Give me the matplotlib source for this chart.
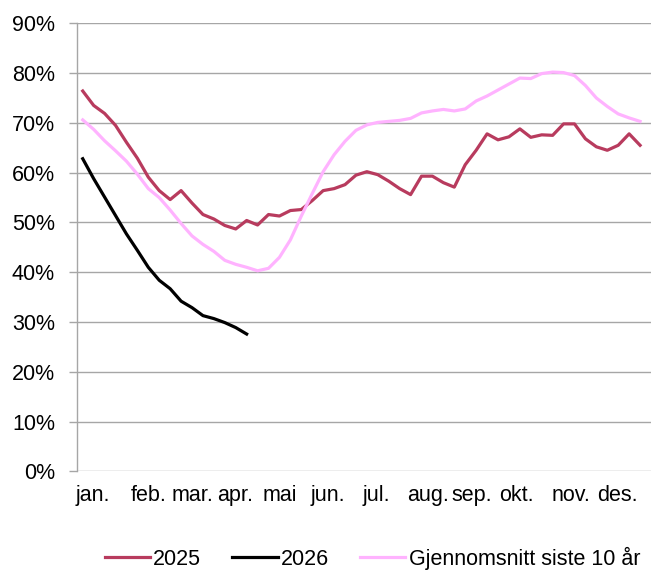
import numpy as np
import matplotlib
matplotlib.use('Agg')
import matplotlib.pyplot as plt
from matplotlib.ticker import FuncFormatter

plt.rcParams['font.family'] = ['Liberation Sans', 'DejaVu Sans']

# weekly values (%), week 1..52
weeks = np.arange(52)

y2025 = [76.4, 73.5, 71.9, 69.5, 66.1, 62.9, 59.1, 56.4, 54.6, 56.4,
         53.9, 51.6, 50.7, 49.4, 48.7, 50.4, 49.5, 51.6, 51.3, 52.4,
         52.6, 54.4, 56.4, 56.8, 57.6, 59.5, 60.2, 59.6, 58.3, 56.8,
         55.6, 59.3, 59.3, 58.0, 57.1, 61.6, 64.5, 67.8, 66.6, 67.2,
         68.8, 67.1, 67.6, 67.5, 69.8, 69.8, 66.8, 65.2, 64.5, 65.5,
         67.8, 65.5]

y2026 = [62.8, 58.8, 55.1, 51.4, 47.7, 44.4, 41.0, 38.4, 36.7, 34.2,
         32.9, 31.3, 30.7, 29.9, 28.9, 27.6]

avg10 = [70.6, 68.7, 66.4, 64.4, 62.3, 59.7, 56.8, 55.0, 52.5, 49.8,
         47.3, 45.6, 44.2, 42.4, 41.6, 41.0, 40.3, 40.8, 43.0, 46.5,
         51.3, 55.8, 60.2, 63.6, 66.3, 68.5, 69.6, 70.1, 70.3, 70.5,
         70.9, 72.0, 72.4, 72.7, 72.4, 72.8, 74.4, 75.4, 76.6, 77.8,
         79.0, 78.9, 79.9, 80.2, 80.1, 79.5, 77.5, 75.0, 73.3, 71.8,
         71.0, 70.3]

month_labels = ['jan.', 'feb.', 'mar.', 'apr.', 'mai', 'jun.', 'jul.',
                'aug.', 'sep.', 'okt.', 'nov.', 'des.']
month_pos = [0.9, 6.0, 10.0, 13.9, 18.0, 22.4, 26.9, 31.6, 35.6, 39.7, 44.7, 48.9]

fig = plt.figure(figsize=(6.51, 5.72), dpi=100)
ax = fig.add_axes([0.1187, 0.1757, 0.8813, 0.7836])

grid_col = '#A6A6A6'
ax.set_ylim(0, 90)
ax.set_xlim(-0.5, 52.0)
ax.set_yticks(np.arange(0, 91, 10))
ax.yaxis.set_major_formatter(FuncFormatter(lambda v, p: f'{v:.0f}%'))
ax.grid(axis='y', color=grid_col, lw=1.0)
ax.set_axisbelow(True)

for s in ['top', 'right', 'bottom']:
    ax.spines[s].set_visible(False)
ax.spines['left'].set_color(grid_col)
ax.spines['left'].set_linewidth(1.0)

ax.tick_params(axis='y', length=6, width=1.0, color=grid_col, labelsize=15.5, pad=10)
ax.set_xticks(month_pos)
ax.set_xticklabels(month_labels)
ax.tick_params(axis='x', length=0, labelsize=15.5, pad=10)

ax.plot(weeks, y2025, color='#B83B5E', lw=2.3, label='2025', solid_joinstyle='round')
ax.plot(weeks[:len(y2026)], y2026, color='black', lw=2.3, label='2026', solid_joinstyle='round')
ax.plot(weeks, avg10, color='#FFB3FF', lw=2.3, label='Gjennomsnitt siste 10 år',
        solid_joinstyle='round')

fig.legend(loc='center', bbox_to_anchor=(0.572, 0.024), ncol=3, frameon=False,
           fontsize=15.5, handlelength=2.1, handletextpad=0.15, columnspacing=1.45,
           borderaxespad=0)

fig.savefig('out.png', dpi=100)
